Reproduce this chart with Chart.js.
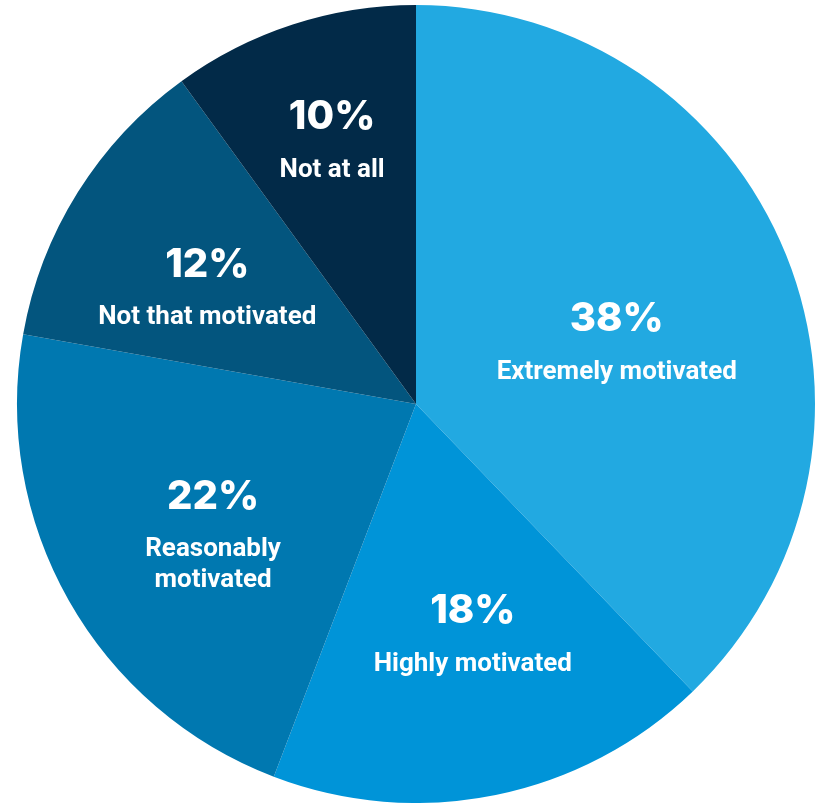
<!DOCTYPE html>
<html>
<head>
<meta charset="utf-8">
<script src="https://cdn.jsdelivr.net/npm/chart.js@4/dist/chart.umd.min.js"></script>
<style>
html,body{margin:0;padding:0;background:#ffffff;}
#wrap{width:824px;height:803px;position:relative;}
</style>
</head>
<body>
<div id="wrap"><canvas id="c" width="824" height="803"></canvas></div>
<script>
const categories = ["Extremely motivated", "Highly motivated", "Reasonably motivated", "Not that motivated", "Not at all"];
const labelLines = [["Extremely motivated"], ["Highly motivated"], ["Reasonably", "motivated"], ["Not that motivated"], ["Not at all"]];
const values = [37.8, 18, 22, 12.2, 10];
const colors = ["#22a9e1", "#0094d8", "#0078b0", "#03557e", "#022a48"];

const sliceLabels = {
  id: 'sliceLabels',
  afterDatasetsDraw(chart, args, opts) {
    const ctx = chart.ctx;
    const meta = chart.getDatasetMeta(0);
    meta.data.forEach((arc, i) => {
      const p = arc.getProps(['x', 'y', 'startAngle', 'endAngle', 'outerRadius'], true);
      const mid = (p.startAngle + p.endAngle) / 2 + opts.angleShift[i] * Math.PI / 180;
      const r = p.outerRadius * opts.radiusFrac[i];
      const x = p.x + Math.cos(mid) * r;
      const y = p.y + Math.sin(mid) * r;
      ctx.save();
      ctx.fillStyle = '#ffffff';
      ctx.textAlign = 'center';
      ctx.textBaseline = 'middle';
      ctx.font = '800 40px Inter, "Open Sans", sans-serif';
      ctx.fillText(Math.round(values[i]) + '%', x, y);
      ctx.font = 'bold 26px Roboto, "Liberation Sans", sans-serif';
      labelLines[i].forEach((t, j) => {
        ctx.fillText(t, x, y + 53 + j * 31);
      });
      ctx.restore();
    });
  }
};

new Chart(document.getElementById('c'), {
  type: 'pie',
  data: {
    labels: categories,
    datasets: [{
      data: values,
      backgroundColor: colors,
      borderWidth: 0,
      hoverOffset: 0
    }]
  },
  options: {
    responsive: false,
    animation: false,
    events: [],
    layout: { padding: { top: 5, bottom: 0, left: 17, right: 9 } },
    plugins: {
      legend: { display: false },
      tooltip: { enabled: false },
      sliceLabels: {
        radiusFrac: [0.546, 0.539, 0.559, 0.629, 0.749],
        angleShift: [-0.9, -3.8, 5, 1.7, 1.7]
      }
    }
  },
  plugins: [sliceLabels]
});
</script>
</body>
</html>
